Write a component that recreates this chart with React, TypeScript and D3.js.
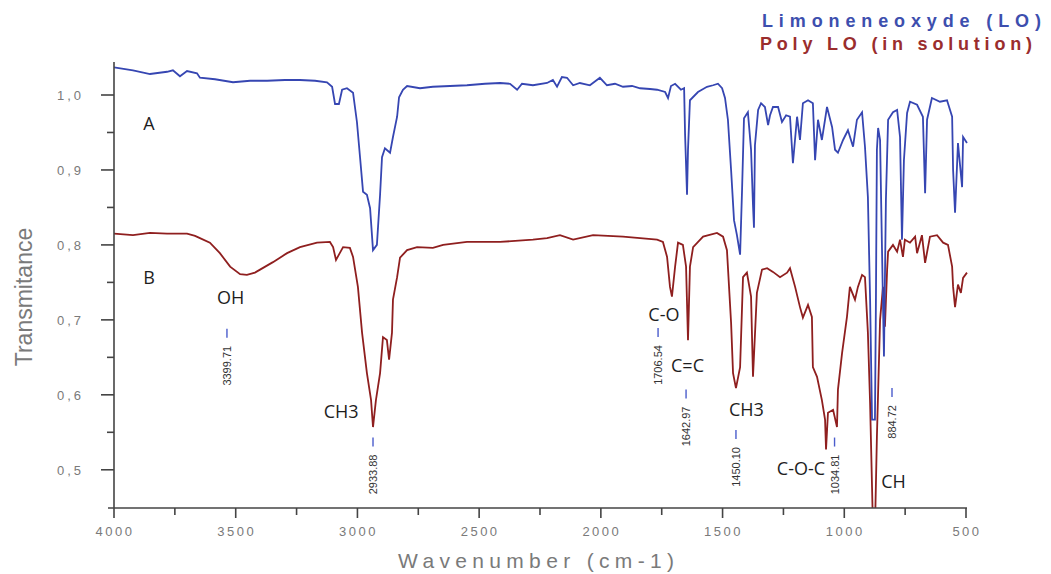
import React from "react";
import * as d3 from "d3";

// ---- Data ----
const blueWn = [4000,3922,3852,3782,3758,3729,3700,3659,3647,3585,
3511,3441,3371,3298,3236,3174,3125,3104,3092,3076,
3063,3043,3018,3002,2989,2977,2961,2948,2936,2920,
2907,2899,2887,2866,2854,2837,2829,2813,2796,2743,
2690,2620,2550,2476,2414,2373,2344,2324,2279,2221,
2197,2180,2160,2139,2114,2086,2045,2004,1975,1942,
1909,1872,1839,1798,1769,1736,1724,1712,1695,1671,
1658,1654,1646,1642,1634,1601,1564,1539,1519,1502,
1490,1478,1465,1453,1441,1428,1420,1412,1396,1383,
1375,1371,1367,1354,1342,1326,1313,1305,1293,1272,
1256,1239,1223,1211,1194,1182,1170,1149,1129,1120,
1108,1092,1071,1050,1038,1026,1005,985,964,948,
927,915,903,894,886,874,870,866,861,853,
845,837,829,820,800,783,771,763,755,742,
730,701,677,668,660,640,607,578,557,553,
545,533,516,512,496];
const blueT = [1.037,1.033,1.028,1.031,1.033,1.025,1.032,1.029,1.023,1.021,
1.017,1.019,1.019,1.020,1.020,1.019,1.017,1.011,0.988,0.988,
1.007,1.009,1.003,0.964,0.916,0.871,0.867,0.849,0.793,0.800,
0.867,0.917,0.929,0.923,0.944,0.971,0.997,1.007,1.012,1.009,
1.011,1.012,1.013,1.015,1.016,1.015,1.007,1.015,1.013,1.016,
1.020,1.011,1.024,1.023,1.013,1.016,1.013,1.023,1.013,1.015,
1.011,1.012,1.009,1.008,1.007,1.004,0.996,1.012,1.015,1.007,
1.009,0.947,0.867,0.927,0.993,1.004,1.011,1.013,1.015,1.009,
0.996,0.967,0.900,0.833,0.813,0.787,0.873,0.969,0.977,0.927,
0.853,0.823,0.933,0.980,0.989,0.984,0.960,0.973,0.984,0.984,
0.964,0.973,0.971,0.909,0.971,0.940,0.989,0.993,0.989,0.913,
0.967,0.940,0.984,0.957,0.927,0.923,0.940,0.953,0.931,0.967,
0.977,0.931,0.864,0.727,0.567,0.567,0.727,0.927,0.956,0.940,
0.793,0.651,0.860,0.967,0.977,0.980,0.944,0.807,0.913,0.976,
0.991,0.987,0.971,0.869,0.967,0.996,0.991,0.993,0.971,0.900,
0.843,0.936,0.877,0.944,0.936];

const redWn = [4000,3922,3852,3782,3700,3667,3647,3606,3565,3523,
3482,3454,3421,3400,3347,3289,3236,3166,3113,3100,
3088,3076,3059,3031,3018,2998,2981,2961,2944,2936,
2924,2907,2895,2879,2870,2858,2854,2837,2825,2796,
2755,2690,2648,2550,2414,2279,2221,2168,2114,2032,
1909,1769,1745,1728,1716,1708,1695,1683,1663,1650,
1642,1634,1621,1580,1523,1498,1482,1465,1457,1445,
1428,1416,1400,1383,1375,1359,1338,1317,1293,1264,
1235,1223,1202,1182,1170,1149,1133,1129,1112,1092,
1079,1075,1067,1046,1030,1026,1009,989,977,956,
944,927,915,903,894,886,882,874,866,853,
841,833,824,820,800,783,771,759,751,730,
709,701,681,668,648,619,594,574,557,553,
545,533,521,512,496];
const redT = [0.815,0.813,0.816,0.815,0.815,0.812,0.809,0.803,0.789,0.771,
0.761,0.760,0.763,0.767,0.777,0.789,0.797,0.803,0.804,0.797,
0.780,0.787,0.797,0.796,0.784,0.744,0.683,0.629,0.593,0.557,
0.593,0.629,0.677,0.673,0.647,0.683,0.727,0.757,0.783,0.793,
0.797,0.796,0.800,0.804,0.804,0.807,0.809,0.813,0.807,0.813,
0.811,0.807,0.804,0.784,0.744,0.731,0.771,0.803,0.800,0.771,
0.673,0.771,0.797,0.811,0.816,0.811,0.793,0.696,0.629,0.609,
0.637,0.757,0.763,0.731,0.624,0.736,0.767,0.769,0.764,0.757,
0.763,0.769,0.744,0.717,0.703,0.720,0.704,0.637,0.624,0.593,
0.567,0.527,0.576,0.580,0.557,0.607,0.656,0.704,0.744,0.727,
0.744,0.760,0.757,0.683,0.589,0.477,0.420,0.420,0.544,0.700,
0.744,0.691,0.767,0.791,0.800,0.791,0.807,0.784,0.807,0.803,
0.811,0.789,0.813,0.776,0.811,0.813,0.803,0.800,0.771,0.744,
0.717,0.747,0.736,0.756,0.763];

const xMajorTicks = [4000, 3500, 3000, 2500, 2000, 1500, 1000, 500];
const xMinorTicks = [3750, 3250, 2750, 2250, 1750, 1250, 750];
const yMajorTicks = [0.5, 0.6, 0.7, 0.8, 0.9, 1.0];
const yMinorTicks = [0.55, 0.65, 0.75, 0.85, 0.95];

const seriesNames = ["Limoneneoxyde (LO)", "Poly LO (in solution)"];
const seriesColors = ["#3646b2", "#8f1f1f"];
const legendColors = ["#3d4fae", "#9a2d2d"];

// peak markers: label, drawn position (wavenumber), marker top (transmittance)
const peakLabels = ["3399.71", "2933.88", "1706.54", "1642.97", "1450.10", "1034.81", "884.72"];
const peakWn = [3536, 2936, 1765, 1650, 1445, 1040, 804];
const peakT = [0.688, 0.543, 0.689, 0.607, 0.553, 0.543, 0.609];

// group labels: text, centre wavenumber, baseline transmittance
const groupTexts = ["A", "B", "OH", "CH3", "C-O", "C=C", "CH3", "C-O-C", "CH"];
const groupWn = [3880, 3880, 3521, 3067, 1741, 1644, 1402, 1178, 798];
const groupT = [0.953, 0.748, 0.721, 0.569, 0.699, 0.631, 0.572, 0.493, 0.476];

const W = 1051;
const H = 574;

export default function App() {
  const x = d3.scaleLinear().domain([4000, 500]).range([114, 966]);
  const y = d3.scaleLinear().domain([0.449, 1.0]).range([508, 95]);
  const axisY = y(0.449);
  const line = d3
    .line<[number, number]>()
    .x((d) => x(d[0]))
    .y((d) => y(d[1]));
  const blue = blueWn.map((w, i) => [w, blueT[i]] as [number, number]);
  const red = redWn.map((w, i) => [w, redT[i]] as [number, number]);
  const fmt = (v: number) => v.toFixed(1).replace(".", ",");
  const axisColor = "#444";
  const labelColor = "#7a7a7a";

  return (
    <svg
      width={W}
      height={H}
      style={{ position: "absolute", left: 0, top: 0, background: "#fff" }}
    >
      <defs>
        <clipPath id="plotClip">
          <rect x={x(4000)} y={0} width={x(500) - x(4000) + 2} height={axisY} />
        </clipPath>
      </defs>

      {/* spectra */}
      <g clipPath="url(#plotClip)" fill="none" strokeLinejoin="miter">
        <path d={line(red) || ""} stroke={seriesColors[1]} strokeWidth={1.8} />
        <path d={line(blue) || ""} stroke={seriesColors[0]} strokeWidth={1.8} />
      </g>

      {/* axes */}
      <g stroke={axisColor} strokeWidth={1.6}>
        <line x1={x(4000)} x2={x(4000)} y1={62} y2={axisY} />
        <line x1={x(4000) - 6} x2={x(500) + 1} y1={axisY} y2={axisY} />
        {yMajorTicks.map((t) => (
          <line key={"ym" + t} x1={x(4000) - 13} x2={x(4000)} y1={y(t)} y2={y(t)} />
        ))}
        {yMinorTicks.map((t) => (
          <line key={"yn" + t} x1={x(4000) - 7} x2={x(4000)} y1={y(t)} y2={y(t)} />
        ))}
        {xMajorTicks.map((t) => (
          <line key={"xm" + t} x1={x(t)} x2={x(t)} y1={axisY} y2={axisY + 10} />
        ))}
        {xMinorTicks.map((t) => (
          <line key={"xn" + t} x1={x(t)} x2={x(t)} y1={axisY} y2={axisY + 7} />
        ))}
      </g>

      {/* tick labels */}
      <g fontFamily="Liberation Sans, Arial, sans-serif" fill={labelColor} fontSize={13}>
        {yMajorTicks.map((t) => (
          <text key={"yl" + t} x={84} y={y(t) + 5} textAnchor="end" letterSpacing={3}>
            {fmt(t)}
          </text>
        ))}
        {xMajorTicks.map((t) => (
          <text key={"xl" + t} x={x(t) + 1} y={536} textAnchor="middle" letterSpacing={2.5}>
            {t}
          </text>
        ))}
      </g>

      {/* axis titles */}
      <text
        x={398}
        y={568}
        fontFamily="Liberation Sans, Arial, sans-serif"
        fontSize={21}
        fill={labelColor}
        textLength={276}
        lengthAdjust="spacing"
      >
        Wavenumber (cm-1)
      </text>
      <text
        transform={`translate(32,${297}) rotate(-90)`}
        textAnchor="middle"
        fontFamily="Liberation Sans, Arial, sans-serif"
        fontSize={23}
        fill={labelColor}
      >
        Transmitance
      </text>

      {/* legend */}
      <g fontFamily="Liberation Sans, Arial, sans-serif" fontSize={18} fontWeight={600}>
        <text x={762} y={27} fill={legendColors[0]} textLength={279} lengthAdjust="spacing">
          {seriesNames[0]}
        </text>
        <text x={760} y={50} fill={legendColors[1]} textLength={272} lengthAdjust="spacing">
          {seriesNames[1]}
        </text>
      </g>

      {/* peak markers */}
      {peakLabels.map((lab, i) => {
        const px = x(peakWn[i]);
        const py = y(peakT[i]);
        return (
          <g key={"pk" + i}>
            <line x1={px} x2={px} y1={py} y2={py + 9} stroke="#4a5ccc" strokeWidth={1.4} />
            <text
              transform={`translate(${px + 4},${py + 17}) rotate(-90)`}
              textAnchor="end"
              fontFamily="Liberation Sans, Arial, sans-serif"
              fontSize={11}
              fill="#333"
            >
              {lab}
            </text>
          </g>
        );
      })}

      {/* group labels */}
      <g fontFamily="Open Sans, Noto Sans, sans-serif" fontSize={18} fill="#1e1e1e">
        {groupTexts.map((t, i) => (
          <text
            key={"gt" + i}
            x={x(groupWn[i])}
            y={y(groupT[i])}
            textAnchor={i < 2 ? "start" : "middle"}
          >
            {t}
          </text>
        ))}
      </g>
    </svg>
  );
}
